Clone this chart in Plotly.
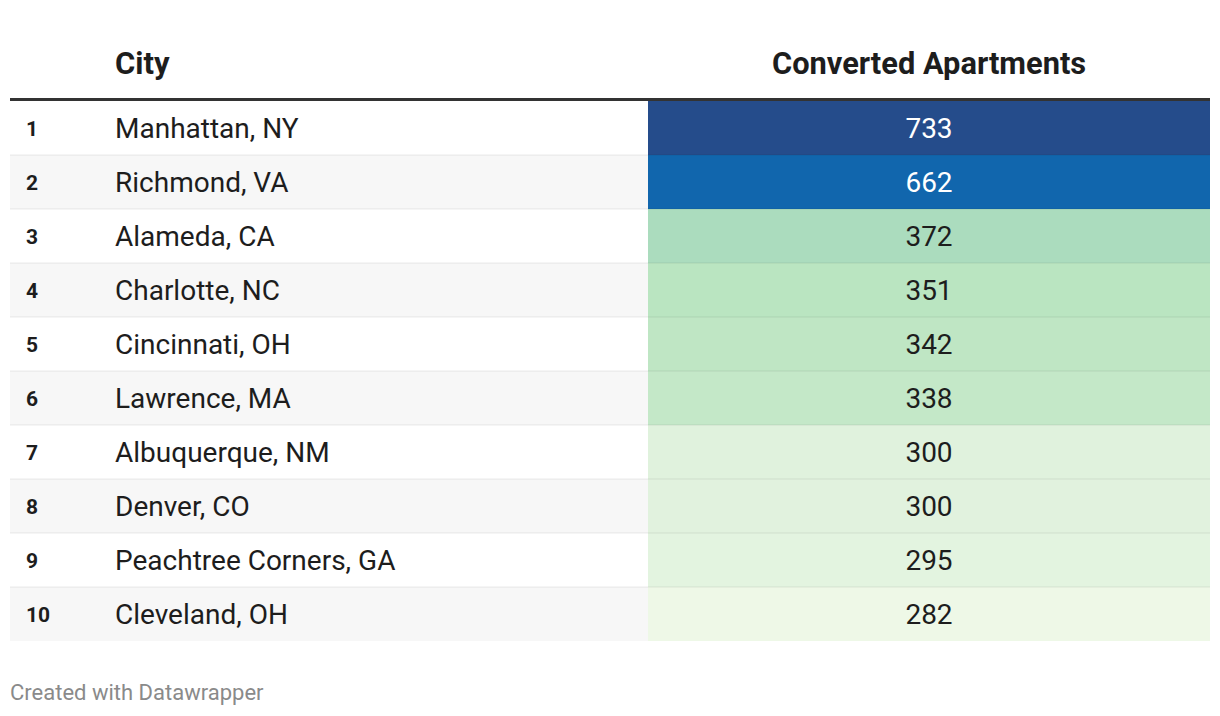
import plotly.graph_objects as go

ranks = ["1", "2", "3", "4", "5", "6", "7", "8", "9", "10"]
cities = ["Manhattan, NY", "Richmond, VA", "Alameda, CA", "Charlotte, NC", "Cincinnati, OH",
          "Lawrence, MA", "Albuquerque, NM", "Denver, CO", "Peachtree Corners, GA", "Cleveland, OH"]
apartments = [733, 662, 372, 351, 342, 338, 300, 300, 295, 282]
cell_colors = ["#254c8b", "#1166ad", "#abdcbe", "#bae5c1", "#bfe6c4", "#c4e8c8",
               "#e0f2dd", "#e1f2de", "#e3f4e0", "#eef8e7"]
header_city = "City"
header_value = "Converted Apartments"
footer = "Created with Datawrapper"

W, H = 1220, 716
OFF = 8  # page body margin
ROW_H = 54
ROW0_CENTER = 128
TABLE_L, TABLE_R = 10, 1210
VAL_L = 648
RANK_X, CITY_X = 26, 115
VAL_X = (VAL_L + TABLE_R) / 2
TXT_DY = 3 / ROW_H  # text baseline nudge

def py(pixel):
    return (pixel - ROW0_CENTER) / ROW_H

rows = list(range(len(cities)))
text_rows = [r + TXT_DY for r in rows]
FONT = "Roboto"
TEXT = "#1d1d1d"

fig = go.Figure()

stripe_rows = [r for r in rows if r % 2 == 1]
fig.add_trace(go.Bar(orientation="h", y=stripe_rows, x=[VAL_L - TABLE_L] * len(stripe_rows),
                     base=TABLE_L, width=1, marker=dict(color="#f7f7f7", line=dict(width=0)),
                     hoverinfo="skip", showlegend=False))
fig.add_trace(go.Bar(orientation="h", y=rows, x=[TABLE_R - VAL_L] * len(rows), base=VAL_L,
                     width=1, marker=dict(color=cell_colors, line=dict(width=0)),
                     hoverinfo="skip", showlegend=False))

fig.add_trace(go.Scatter(x=[RANK_X] * len(rows), y=text_rows, text=[f"<b>{r}</b>" for r in ranks],
                         mode="text", textposition="middle right",
                         textfont=dict(family=FONT, size=21, color=TEXT),
                         hoverinfo="skip", showlegend=False))
fig.add_trace(go.Scatter(x=[CITY_X] * len(rows), y=text_rows, text=cities, mode="text",
                         textposition="middle right",
                         textfont=dict(family=FONT, size=28, color=TEXT),
                         hoverinfo="skip", showlegend=False))
val_colors = ["#ffffff" if v >= 600 else TEXT for v in apartments]
fig.add_trace(go.Scatter(x=[VAL_X] * len(rows), y=text_rows, text=[str(v) for v in apartments],
                         mode="text", textposition="middle center",
                         textfont=dict(family=FONT, size=28, color=val_colors),
                         hoverinfo="skip", showlegend=False))

shapes = []
for r in rows[:-1]:
    shapes.append(dict(type="line", xref="x", yref="y", x0=TABLE_L, x1=TABLE_R,
                       y0=r + 0.5, y1=r + 0.5, line=dict(color="rgba(0,0,0,0.08)", width=1)))
shapes.append(dict(type="line", xref="x", yref="y", x0=TABLE_L, x1=TABLE_R,
                   y0=py(99.5), y1=py(99.5), line=dict(color="#333333", width=3)))

annotations = [
    dict(x=CITY_X - 2, y=py(63), xref="x", yref="y", text=f"<b>{header_city}</b>", showarrow=False,
         xanchor="left", yanchor="middle", font=dict(family=FONT, size=31, color=TEXT)),
    dict(x=VAL_X, y=py(63), xref="x", yref="y", text=f"<b>{header_value}</b>", showarrow=False,
         xanchor="center", yanchor="middle", font=dict(family=FONT, size=30.8, color=TEXT)),
    dict(x=TABLE_L - 2, y=py(692), xref="x", yref="y", text=footer, showarrow=False,
         xanchor="left", yanchor="middle", font=dict(family=FONT, size=22, color="#8a8a8a")),
]

fig.update_layout(
    width=W - OFF, height=H - OFF, margin=dict(l=0, r=0, t=0, b=0),
    paper_bgcolor="white", plot_bgcolor="white", barmode="overlay",
    xaxis=dict(range=[OFF, W], visible=False, fixedrange=True),
    yaxis=dict(range=[py(H), py(OFF)], visible=False, fixedrange=True),
    shapes=shapes, annotations=annotations, showlegend=False,
)

fig.write_html("out.html", config={"displayModeBar": False})
